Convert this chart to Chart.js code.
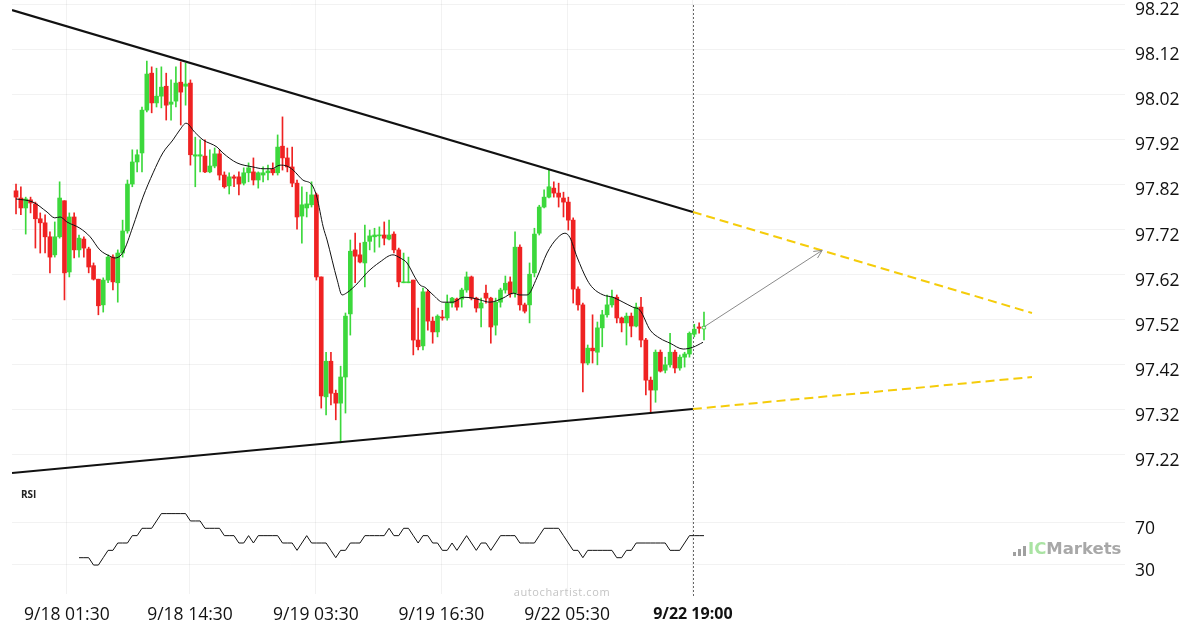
<!DOCTYPE html>
<html><head><meta charset="utf-8">
<script src="https://cdn.jsdelivr.net/npm/chart.js@4.4.1/dist/chart.umd.min.js"></script>
<style>
html,body{margin:0;padding:0;background:#fff;width:1200px;height:630px;overflow:hidden;}
body{position:relative;font-family:'Open Sans',sans-serif;}
#main{position:absolute;left:0;top:0;}
#rsi{position:absolute;left:0;top:482px;}
.rsi-label{position:absolute;left:21px;top:487px;font-weight:bold;font-size:10px;color:#222;}
.wm{position:absolute;left:462px;width:200px;text-align:center;top:584px;font-size:11px;color:#c4c4c4;letter-spacing:0.6px;}
.logo{position:absolute;left:1013px;top:539px;font-family:'DejaVu Sans',sans-serif;font-weight:bold;font-size:16.5px;line-height:20px;white-space:nowrap;display:flex;align-items:flex-end;}
.logo .bars{display:inline-flex;align-items:flex-end;gap:2px;margin-right:2px;height:16px;padding-bottom:3px;}
.logo .bars i{display:block;width:3px;background:#a0a0a0;}
.logo .ic{color:#a9e3a2;}
.logo .mk{color:#a8a8a8;}
</style></head>
<body>
<canvas id="main" width="1200" height="482"></canvas>
<canvas id="rsi" width="1200" height="148"></canvas>
<div class="rsi-label">RSI</div>
<div class="wm">autochartist.com</div>
<div class="logo"><span class="bars"><i style="height:4px"></i><i style="height:7px"></i><i style="height:10px"></i></span><span class="ic">IC</span><span class="mk">Markets</span></div>
<script>
// ---------- data ----------
const timeLabels = ['9/18 01:30','9/18 14:30','9/19 03:30','9/19 16:30','9/22 05:30','9/22 19:00'];
const timeIdx = [10.5, 35.9, 61.9, 87.8, 113.75, 139.7];
const priceTicks = [97.22,97.32,97.42,97.52,97.62,97.72,97.82,97.92,98.02,98.12,98.22];
const rsiTicks = [30,70];

const open = [
97.806,97.790,97.768,97.786,97.777,97.744,97.735,97.704,97.664,97.704,
97.784,97.626,97.748,97.675,97.699,97.677,97.640,97.610,97.553,97.608,
97.659,97.602,97.668,97.717,97.821,97.870,97.890,97.985,98.067,98.001,
98.016,98.038,97.998,98.005,98.047,98.038,98.045,97.883,97.883,97.883,
97.848,97.861,97.888,97.841,97.817,97.837,97.837,97.823,97.846,97.848,
97.830,97.841,97.846,97.855,97.846,97.905,97.879,97.859,97.823,97.750,
97.768,97.775,97.797,97.615,97.349,97.428,97.357,97.335,97.393,97.533,
97.675,97.664,97.646,97.694,97.704,97.706,97.708,97.699,97.710,97.675,
97.602,97.602,97.608,97.475,97.462,97.582,97.517,97.493,97.526,97.524,
97.557,97.566,97.566,97.586,97.615,97.568,97.546,97.579,97.568,97.508,
97.559,97.586,97.604,97.579,97.681,97.553,97.553,97.624,97.712,97.770,
97.792,97.812,97.801,97.790,97.781,97.741,97.588,97.553,97.424,97.457,
97.448,97.502,97.531,97.553,97.570,97.524,97.513,97.528,97.506,97.548,
97.475,97.386,97.364,97.448,97.408,97.420,97.448,97.413,97.437,97.444,
97.488,97.504,97.499];
const high = [
97.821,97.815,97.792,97.792,97.781,97.757,97.753,97.715,97.737,97.826,
97.784,97.757,97.757,97.708,97.704,97.681,97.646,97.610,97.613,97.664,
97.664,97.675,97.741,97.830,97.897,97.897,97.992,98.094,98.081,98.078,
98.081,98.067,98.052,98.081,98.092,98.089,98.052,97.925,97.919,97.919,
97.897,97.901,97.897,97.848,97.846,97.841,97.848,97.857,97.868,97.879,
97.848,97.859,97.863,97.868,97.930,97.970,97.901,97.903,97.830,97.815,
97.803,97.826,97.801,97.615,97.448,97.448,97.364,97.417,97.535,97.697,
97.712,97.690,97.730,97.719,97.723,97.726,97.737,97.741,97.715,97.679,
97.668,97.659,97.608,97.546,97.590,97.586,97.526,97.531,97.541,97.575,
97.570,97.568,97.590,97.626,97.617,97.570,97.568,97.597,97.570,97.568,
97.590,97.617,97.615,97.715,97.686,97.557,97.646,97.723,97.774,97.808,
97.852,97.826,97.823,97.803,97.792,97.746,97.593,97.557,97.464,97.531,
97.515,97.541,97.575,97.586,97.575,97.526,97.535,97.535,97.557,97.570,
97.479,97.393,97.453,97.453,97.437,97.490,97.453,97.442,97.448,97.493,
97.510,97.513,97.537];
const low = [
97.755,97.753,97.710,97.757,97.679,97.668,97.668,97.624,97.659,97.701,
97.564,97.615,97.657,97.659,97.659,97.624,97.608,97.531,97.537,97.602,
97.586,97.559,97.659,97.712,97.815,97.848,97.848,97.981,97.979,97.992,
97.990,97.963,97.963,97.992,97.952,97.996,97.863,97.815,97.848,97.846,
97.846,97.857,97.830,97.812,97.799,97.815,97.797,97.819,97.826,97.819,
97.812,97.826,97.830,97.841,97.841,97.852,97.848,97.815,97.721,97.690,
97.748,97.770,97.608,97.324,97.309,97.331,97.298,97.247,97.313,97.486,
97.602,97.646,97.593,97.675,97.670,97.681,97.686,97.697,97.668,97.593,
97.602,97.602,97.442,97.453,97.453,97.497,97.468,97.482,97.519,97.519,
97.548,97.541,97.548,97.581,97.564,97.537,97.504,97.557,97.468,97.486,
97.548,97.579,97.570,97.570,97.541,97.535,97.513,97.615,97.708,97.768,
97.790,97.792,97.770,97.748,97.719,97.557,97.541,97.360,97.420,97.424,
97.420,97.460,97.526,97.548,97.513,97.493,97.464,97.482,97.504,97.460,
97.353,97.313,97.337,97.404,97.402,97.415,97.402,97.408,97.415,97.437,
97.482,97.490,97.475];
const close = [
97.792,97.768,97.788,97.779,97.744,97.735,97.704,97.659,97.704,97.790,
97.624,97.748,97.675,97.701,97.679,97.637,97.610,97.551,97.608,97.659,
97.604,97.668,97.717,97.821,97.870,97.886,97.985,98.065,98.001,98.016,
98.036,97.996,98.003,98.045,98.025,98.043,97.886,97.886,97.886,97.848,
97.861,97.888,97.841,97.815,97.837,97.834,97.821,97.846,97.857,97.830,
97.846,97.846,97.850,97.846,97.903,97.879,97.859,97.823,97.748,97.775,
97.777,97.797,97.615,97.351,97.428,97.357,97.335,97.393,97.528,97.672,
97.661,97.648,97.692,97.706,97.708,97.708,97.701,97.708,97.675,97.604,
97.604,97.604,97.475,97.460,97.582,97.517,97.493,97.528,97.524,97.557,
97.568,97.548,97.586,97.615,97.568,97.546,97.557,97.568,97.504,97.559,
97.586,97.601,97.577,97.681,97.553,97.539,97.621,97.710,97.770,97.792,
97.815,97.801,97.792,97.781,97.741,97.588,97.553,97.424,97.457,97.451,
97.502,97.531,97.553,97.570,97.524,97.513,97.528,97.506,97.548,97.475,
97.386,97.364,97.448,97.406,97.420,97.448,97.413,97.437,97.444,97.490,
97.499,97.501,97.506];

// moving average
const maIdx = [0,3.5,6.4,8.0,9.1,10.5,13.2,15.3,17.3,19.4,20.4,22.1,24.1,26.2,28.3,30.3,32.4,33.8,35.1,36.9,38.6,41.5,42.7,45.6,48.9,51.0,52.8,54.5,55.9,57.2,59.2,61.1,62.1,63.4,64.2,66.3,67.3,68.3,70.6,72.4,75.1,77.8,79.3,80.7,82.4,83.4,84.4,86.1,88.1,90.2,92.3,94.3,95.8,97.8,100.5,102.6,104.0,105.5,107.5,109.6,111.7,113.3,114.3,115.8,117.9,119.1,121.2,123.2,125.3,127.3,128.8,130.9,132.9,135.0,137.7,139.7,141.8];
const maVal = [97.788,97.781,97.759,97.746,97.748,97.737,97.723,97.704,97.675,97.661,97.657,97.670,97.726,97.792,97.846,97.890,97.919,97.941,97.956,97.936,97.919,97.903,97.890,97.868,97.859,97.855,97.855,97.863,97.861,97.852,97.830,97.819,97.792,97.726,97.697,97.608,97.575,97.580,97.602,97.624,97.648,97.664,97.657,97.646,97.613,97.597,97.592,97.575,97.559,97.559,97.570,97.568,97.564,97.559,97.568,97.579,97.575,97.575,97.613,97.668,97.701,97.712,97.703,97.659,97.608,97.590,97.575,97.570,97.559,97.548,97.541,97.497,97.479,97.468,97.455,97.459,97.470];

// RSI, one value per bar starting at bar rsiStart
const rsiStart = 13;
const rsi = [
36,36,36,29,29,36,43,43,50,50,
50,57,57,64,64,64,71,78,78,78,
78,78,78,71,71,71,64,64,64,64,
57,57,57,50,50,57,50,57,57,57,
57,57,50,50,50,43,50,57,50,50,
50,50,43,36,43,43,50,50,50,57,
57,57,57,57,64,57,57,64,64,57,
50,57,57,50,50,43,43,50,43,50,
57,50,43,50,50,43,50,57,57,57,
57,50,50,50,50,57,64,64,64,64,
57,50,43,43,36,43,43,43,43,43,
43,36,36,43,43,50,50,50,50,50,
50,50,43,43,43,50,57,57,57,57];

// triangle pattern lines and projections
const upperIdx = [-0.83, 139.7];      const upperVal = [98.207, 97.759];
const upperProjIdx = [139.7, 209.7];  const upperProjVal = [97.759, 97.535];
const lowerIdx = [-0.83, 139.7];      const lowerVal = [97.180, 97.322];
const lowerProjIdx = [139.7, 209.7];  const lowerProjVal = [97.322, 97.393];
const arrowIdx = [142, 166.4];        const arrowVal = [97.504, 97.674];
const nowIdx = 139.7;

// ---------- styling ----------
const GREEN = '#3cd83c', RED = '#ef2222';
const FONT = "'Open Sans', sans-serif";
const GRID = 'rgba(0,0,0,0.05)';
const X_MIN = -0.83, X_MAX = 228.9;
const last = close.length - 1;
const up = close.map((c,i) => c >= open[i]);
const candleCol = up.map(u => u ? GREEN : RED);
const bodyFill = candleCol.map((c,i) => i === last ? '#ffffff' : c);
const bodyBorder = candleCol.map((c,i) => i === last ? 1 : 0);

const pts = (xs, ys) => xs.map((x,k) => ({x, y: ys[k]}));

const zeroPad = s => { s.paddingTop = 0; s.paddingBottom = 0; s.paddingLeft = 0; s.paddingRight = 0; };

const mainOverlay = {
  id: 'mainOverlay',
  beforeDatasetsDraw(chart) {
    const {ctx, scales:{x}} = chart;
    const px = Math.round(x.getPixelForValue(nowIdx)) + 0.5;
    ctx.save();
    ctx.strokeStyle = '#666'; ctx.lineWidth = 1; ctx.setLineDash([2,2]);
    ctx.beginPath(); ctx.moveTo(px, 5); ctx.lineTo(px, chart.height); ctx.stroke();
    ctx.restore();
  },
  afterDatasetsDraw(chart) {
    const {ctx, scales:{x, y}} = chart;
    const x0 = x.getPixelForValue(arrowIdx[0]), y0 = y.getPixelForValue(arrowVal[0]);
    const x1 = x.getPixelForValue(arrowIdx[1]), y1 = y.getPixelForValue(arrowVal[1]);
    const a = Math.atan2(y1 - y0, x1 - x0);
    ctx.save();
    ctx.strokeStyle = '#8a8a8a'; ctx.lineWidth = 1;
    ctx.beginPath(); ctx.moveTo(x0, y0); ctx.lineTo(x1, y1); ctx.stroke();
    ctx.beginPath();
    ctx.moveTo(x1 - 9*Math.cos(a - 0.45), y1 - 9*Math.sin(a - 0.45));
    ctx.lineTo(x1, y1);
    ctx.lineTo(x1 - 9*Math.cos(a + 0.45), y1 - 9*Math.sin(a + 0.45));
    ctx.stroke();
    ctx.restore();
  }
};

new Chart(document.getElementById('main'), {
  type: 'bar',
  data: {
    datasets: [
      { type: 'line', data: pts(upperIdx, upperVal), borderColor: '#111', borderWidth: 2.2, pointRadius: 0, order: 0 },
      { type: 'line', data: pts(lowerIdx, lowerVal), borderColor: '#111', borderWidth: 2.2, pointRadius: 0, order: 0 },
      { type: 'line', data: pts(upperProjIdx, upperProjVal), borderColor: '#f5cc0a', borderWidth: 2, borderDash: [9,5], pointRadius: 0, order: 0 },
      { type: 'line', data: pts(lowerProjIdx, lowerProjVal), borderColor: '#f5cc0a', borderWidth: 2, borderDash: [9,5], pointRadius: 0, order: 0 },
      { type: 'line', data: pts(maIdx, maVal), borderColor: '#111', borderWidth: 1, pointRadius: 0, cubicInterpolationMode: 'monotone', order: 1 },
      { type: 'bar', data: close.map((_,i) => ({x: i, y: [open[i], close[i]]})), backgroundColor: bodyFill, borderColor: candleCol, borderWidth: bodyBorder, borderSkipped: false, barThickness: 4, minBarLength: 1, grouped: false, order: 2 },
      { type: 'bar', data: close.map((_,i) => ({x: i, y: [low[i], high[i]]})), backgroundColor: candleCol, barThickness: 1, grouped: false, order: 3 }
    ]
  },
  options: {
    responsive: false, animation: false, devicePixelRatio: 1,
    layout: { padding: { left: 12, right: 0, top: 0, bottom: 0 } },
    plugins: { legend: { display: false }, tooltip: { enabled: false } },
    scales: {
      x: {
        type: 'linear', min: X_MIN, max: X_MAX, offset: false,
        grid: { color: GRID, drawTicks: false, offset: false },
        border: { display: false },
        ticks: { display: false },
        afterBuildTicks: s => { s.ticks = timeIdx.map(v => ({value: v})); },
        afterFit: s => { s.height = 0; zeroPad(s); }
      },
      y: {
        type: 'linear', position: 'right', min: 97.1601, max: 98.2293,
        grid: { color: GRID, drawTicks: false },
        border: { display: false },
        ticks: { padding: 10, labelOffset: 6, color: '#111', font: { family: FONT, size: 17.5 }, callback: v => Number(v).toFixed(2) },
        afterBuildTicks: s => { s.ticks = priceTicks.map(v => ({value: v})); },
        afterFit: s => { s.width = 75; zeroPad(s); }
      }
    }
  },
  plugins: [mainOverlay]
});

const rsiOverlay = {
  id: 'rsiOverlay',
  beforeDatasetsDraw(chart) {
    const {ctx, scales:{x}} = chart;
    const px = Math.round(x.getPixelForValue(nowIdx)) + 0.5;
    ctx.save();
    ctx.strokeStyle = '#666'; ctx.lineWidth = 1; ctx.setLineDash([2,2]);
    ctx.beginPath(); ctx.moveTo(px, 0); ctx.lineTo(px, chart.chartArea.bottom + 4); ctx.stroke();
    ctx.restore();
  }
};

new Chart(document.getElementById('rsi'), {
  type: 'line',
  data: {
    datasets: [
      { data: rsi.map((v,k) => ({x: rsiStart + k, y: v})), borderColor: '#111', borderWidth: 1, pointRadius: 0, tension: 0 }
    ]
  },
  options: {
    responsive: false, animation: false, devicePixelRatio: 1,
    layout: { padding: { left: 12, right: 0, top: 0, bottom: 0 } },
    plugins: { legend: { display: false }, tooltip: { enabled: false } },
    scales: {
      x: {
        type: 'linear', min: X_MIN, max: X_MAX, offset: false,
        grid: { color: GRID, drawTicks: false },
        border: { display: false },
        ticks: {
          autoSkip: false, maxRotation: 0, padding: 11, color: '#111',
          font: c => (c.index === timeLabels.length - 1) ? { family: FONT, size: 16, weight: 'bold' } : { family: FONT, size: 17.5 },
          callback: (v, i) => timeLabels[i]
        },
        afterBuildTicks: s => { s.ticks = timeIdx.map(v => ({value: v})); },
        afterFit: s => { s.height = 36; zeroPad(s); }
      },
      y: {
        type: 'linear', position: 'right', min: 1.43, max: 108.1,
        grid: { color: GRID, drawTicks: false },
        border: { display: false },
        ticks: { padding: 10, labelOffset: 7, color: '#111', font: { family: FONT, size: 17.5 }, callback: v => String(v) },
        afterBuildTicks: s => { s.ticks = rsiTicks.map(v => ({value: v})); },
        afterFit: s => { s.width = 75; zeroPad(s); }
      }
    }
  },
  plugins: [rsiOverlay]
});
</script>
</body></html>
